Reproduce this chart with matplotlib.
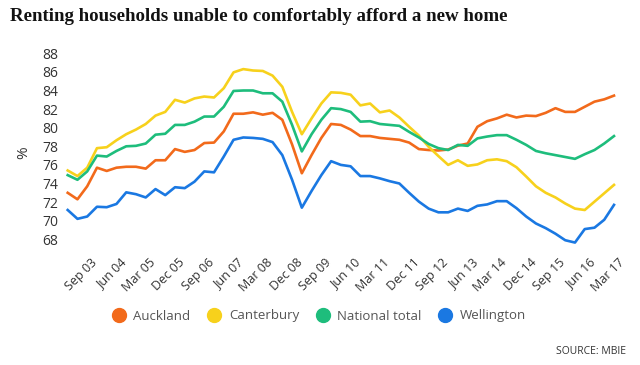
import numpy as np
import matplotlib
matplotlib.use('Agg')
import matplotlib.pyplot as plt
from matplotlib.lines import Line2D
from matplotlib.transforms import ScaledTranslation

# quarterly, Sep 03 .. Sep 17
auckland = [73.0, 72.3, 73.7, 75.7, 75.35, 75.7, 75.8, 75.8, 75.6, 76.5,
            76.5, 77.7, 77.4, 77.6, 78.35, 78.4, 79.6, 81.5, 81.5, 81.65,
            81.4, 81.6, 80.85, 78.2, 75.1, 77.06, 78.9, 80.4, 80.3, 79.8,
            79.1, 79.1, 78.9, 78.8, 78.7, 78.4, 77.7, 77.6, 77.55, 77.65,
            78.07, 78.3, 80.1, 80.7, 81.0, 81.4, 81.1, 81.3, 81.25, 81.6,
            82.1, 81.7, 81.7, 82.25, 82.8, 83.05, 83.45]
canterbury = [75.4, 74.8, 75.7, 77.8, 77.9, 78.65, 79.3, 79.8, 80.4, 81.3,
              81.7, 83.0, 82.7, 83.15, 83.35, 83.25, 84.25, 85.95, 86.3, 86.15,
              86.1, 85.6, 84.4, 81.7, 79.3, 81.0, 82.6, 83.8, 83.75, 83.55,
              82.4, 82.6, 81.65, 81.85, 81.1, 80.1, 79.15, 77.95, 76.95, 76.0,
              76.5, 75.9, 76.05, 76.5, 76.6, 76.4, 75.75, 74.75, 73.7, 73.0,
              72.5, 71.85, 71.3, 71.15, 72.05, 72.95, 73.85]
national = [74.9, 74.4, 75.3, 77.0, 76.9, 77.5, 78.0, 78.05, 78.3, 79.25,
            79.35, 80.3, 80.3, 80.65, 81.2, 81.2, 82.25, 83.95, 84.0, 84.0,
            83.7, 83.7, 82.8, 80.3, 77.45, 79.3, 80.85, 82.1, 82.0, 81.7,
            80.65, 80.7, 80.4, 80.3, 80.2, 79.55, 78.95, 78.25, 77.8, 77.6,
            78.15, 78.05, 78.85, 79.05, 79.2, 79.2, 78.7, 78.15, 77.5, 77.25,
            77.05, 76.85, 76.65, 77.15, 77.6, 78.3, 79.1]
wellington = [71.15, 70.2, 70.45, 71.5, 71.45, 71.8, 73.05, 72.85, 72.5, 73.4,
              72.75, 73.6, 73.5, 74.2, 75.3, 75.2, 76.9, 78.7, 78.95, 78.9,
              78.8, 78.45, 77.05, 74.4, 71.4, 73.2, 74.9, 76.4, 76.0, 75.85,
              74.8, 74.8, 74.55, 74.25, 74.0, 73.0, 72.05, 71.3, 70.9, 70.9,
              71.3, 71.05, 71.6, 71.75, 72.1, 72.1, 71.35, 70.45, 69.7, 69.2,
              68.6, 67.9, 67.65, 69.1, 69.25, 70.1, 71.7]

tick_labels = ['Sep 03', 'Jun 04', 'Mar 05', 'Dec 05', 'Sep 06', 'Jun 07', 'Mar 08',
               'Dec 08', 'Sep 09', 'Jun 10', 'Mar 11', 'Dec 11', 'Sep 12', 'Jun 13',
               'Mar 14', 'Dec 14', 'Sep 15', 'Jun 16', 'Mar 17']
y_ticks = list(range(68, 89, 2))

series = [('Auckland', auckland, '#f26a1b'),
          ('Canterbury', canterbury, '#f7d11c'),
          ('National total', national, '#1ebd7c'),
          ('Wellington', wellington, '#1a78e2')]

plt.rcParams['font.family'] = ['Open Sans', 'DejaVu Sans']

W, H = 640, 365
fig = plt.figure(figsize=(6.4, 3.65), dpi=100)
fig.patch.set_facecolor('white')

# plot area in pixels: x 67.7..614, y 53.3..239.3
ax = fig.add_axes([67.7 / W, 1 - 239.3 / H, (614 - 67.7) / W, (239.3 - 53.3) / H])
x = np.arange(len(auckland))
for name, vals, col in series:
    ax.plot(x, vals, color=col, linewidth=1.9, solid_joinstyle='round', clip_on=False)

ax.set_xlim(0, len(auckland) - 1)
ax.set_ylim(68, 88)
ax.set_yticks(y_ticks)
ax.set_yticklabels([str(v) for v in y_ticks], fontsize=10, color='#333333')
ax.set_xticks(np.arange(0, 3 * len(tick_labels), 3))
ax.set_xticklabels(tick_labels, fontsize=9, color='#333333', rotation=45,
                   ha='right', va='top', rotation_mode='anchor')
ax.tick_params(axis='y', length=0, pad=7)
ax.tick_params(axis='x', length=0, pad=12)
shift = ScaledTranslation(23 / 100, 0, fig.dpi_scale_trans)
for lab in ax.get_xticklabels():
    lab.set_transform(lab.get_transform() + shift)
for s in ax.spines.values():
    s.set_visible(False)

fig.text(24 / W, 1 - 153 / H, '%', rotation=90, fontsize=11, color='#333333',
         ha='center', va='center')

fig.text(10 / W, 1 - 16.5 / H, 'Renting households unable to comfortably afford a new home',
         fontsize=13.6, fontweight='bold', family='Liberation Serif', color='#121212',
         ha='left', va='center')

handles = [Line2D([], [], marker='o', linestyle='none', markersize=10,
                  markerfacecolor=col, markeredgecolor=col) for _, _, col in series]
fig.legend(handles, [s[0] for s in series], loc='center', ncol=4,
           bbox_to_anchor=(316 / W, 1 - 316 / H), frameon=False, fontsize=9.5,
           handletextpad=0.1, columnspacing=0.8, labelcolor='#555555')

fig.text(626 / W, 1 - 352 / H, 'SOURCE: MBIE', fontsize=7.5, color='#333333',
         ha='right', va='center')

fig.savefig('out.png', dpi=100, facecolor='white')
